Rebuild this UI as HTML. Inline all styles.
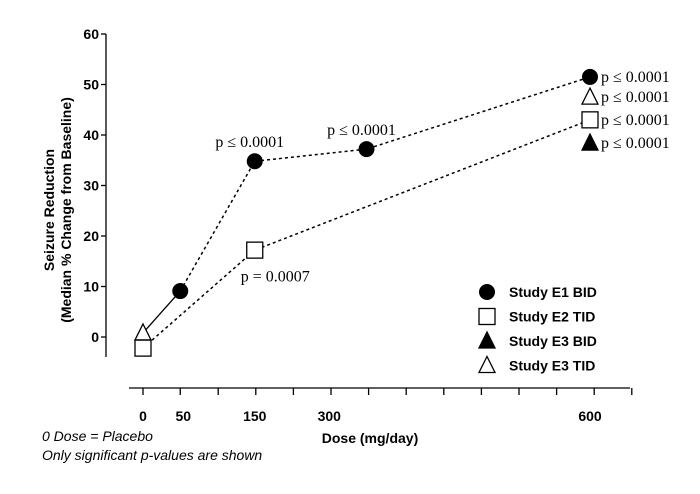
<!DOCTYPE html>
<html><head><meta charset="utf-8"><style>
body{margin:0;background:#fff}
svg{display:block}
.t{font-family:"Liberation Sans",sans-serif;font-weight:bold;font-size:14px}
.f{font-family:"Liberation Sans",sans-serif;font-style:italic;font-size:14px}
.p{font-family:"Liberation Serif",serif;font-size:16px}
</style></head><body>
<svg id="c" width="700" height="494"></svg>
<script>
const yTicks=[0,10,20,30,40,50,60];
const xLabels=[0,50,150,300,600];
const xLabelPos=[0,50,150,250,600];
const e1Dose=[50,150,300,600], e1Val=[9.1,34.8,37.2,51.5];
const e2Dose=[0,150,600], e2Val=[-2.2,17.2,43];
const e3bDose=[600], e3bVal=[38.4];
const e3tDose=[0,600], e3tVal=[0.8,47.5];
const pLabels=[["p ≤ 0.0001",150,37.6,"middle"],["p ≤ 0.0001",300,40,"middle"],["p = 0.0007",150,11,"start"]];
const ns="http://www.w3.org/2000/svg",s=document.getElementById('c');
const X=d=>143+0.745*d, Y=v=>337-5.05*v;
function mk(t,a,txt){const e=document.createElementNS(ns,t);for(const k in a)e.setAttribute(k,a[k]);if(txt!=null)e.textContent=txt;s.appendChild(e);return e;}
let e=mk('line',{x1:106,y1:34,x2:106,y2:357,stroke:'#000','stroke-width':1.3});

yTicks.forEach(v=>{mk('line',{x1:101,x2:106,y1:Y(v),y2:Y(v),stroke:'#000','stroke-width':1.3});
 e=mk('text',{x:99,y:Y(v)+5,'text-anchor':'end',class:'t'},v);
 });
e=mk('text',{class:'t',transform:'translate(54,210) rotate(-90)','text-anchor':'middle'});

e.innerHTML='<tspan x="0" y="0">Seizure Reduction</tspan><tspan x="0" y="17">(Median % Change from Baseline)</tspan>';
e=mk('line',{x1:129,y1:388,x2:630,y2:388,stroke:'#000','stroke-width':1.3});

for(let i=0;i<14;i++){const x=143+37.6*i;if(i==1)continue;mk('line',{x1:x,x2:x,y1:388,y2:395,stroke:'#000','stroke-width':1.3});}
mk('line',{x1:X(50),x2:X(50),y1:388,y2:395,stroke:'#000','stroke-width':1.3});
xLabels.forEach((v,i)=>{e=mk('text',{x:X(xLabelPos[i])+(i==1?3:0),y:421,'text-anchor':'middle',class:'t'},v);
 });
e=mk('text',{x:370,y:443,'text-anchor':'middle',class:'t'},'Dose (mg/day)');

e=mk('text',{x:42,y:441,class:'f'},'0 Dose = Placebo');

e=mk('text',{x:42,y:460,class:'f'},'Only significant p-values are shown');

function line(ds,vs,name){const pts=ds.map((d,i)=>X(d)+','+Y(vs[i])).join(' ');
 const l=mk('polyline',{points:pts,fill:'none',stroke:'#000','stroke-width':1.5,'stroke-dasharray':'3,3'});
 }
line(e1Dose,e1Val,'line-e1-bid');line(e2Dose,e2Val,'line-e2-tid');
e=mk('line',{x1:X(e3tDose[0]),y1:Y(e3tVal[0]),x2:X(e1Dose[0]),y2:Y(e1Val[0]),stroke:'#000','stroke-width':1.3});

function marker(type,x,y){let m;
 if(type=='c')m=mk('circle',{cx:x,cy:y,r:8,fill:'#000'});
 else if(type=='s')m=mk('rect',{x:x-8,y:y-8,width:16,height:16,fill:'#fff',stroke:'#000','stroke-width':1.3});
 else m=mk('polygon',{points:`${x},${y-9} ${x-8},${y+7} ${x+8},${y+7}`,fill:type=='tf'?'#000':'#fff',stroke:'#000','stroke-width':1.3});
 return m;}
function series(ds,vs,type,name){ds.forEach((d,i)=>{const m=marker(type,X(d),Y(vs[i]));
 });}
series(e3tDose,e3tVal,'t','point-e3-tid');
series(e2Dose,e2Val,'s','point-e2-tid');
series(e1Dose,e1Val,'c','point-e1-bid');
series(e3bDose,e3bVal,'tf','point-e3-bid');
pLabels.forEach(p=>{e=mk('text',{x:p[3]=='start'?X(p[1])-14:X(p[1])-5,y:Y(p[2]),'text-anchor':p[3],class:'p'},p[0]);
 });
[e1Val[3],e3tVal[1],e2Val[2],e3bVal[0]].forEach(v=>{e=mk('text',{x:X(600)+11,y:Y(v)+5,class:'p'},'p ≤ 0.0001');
 });
const leg=[['c','Study E1 BID'],['s','Study E2 TID'],['tf','Study E3 BID'],['t','Study E3 TID']];
leg.forEach((l,i)=>{const y=292+24.5*i;const m=marker(l[0],487,y);
 
 e=mk('text',{x:509,y:y+5,class:'t'},l[1]);
 });
</script>
</body></html>
